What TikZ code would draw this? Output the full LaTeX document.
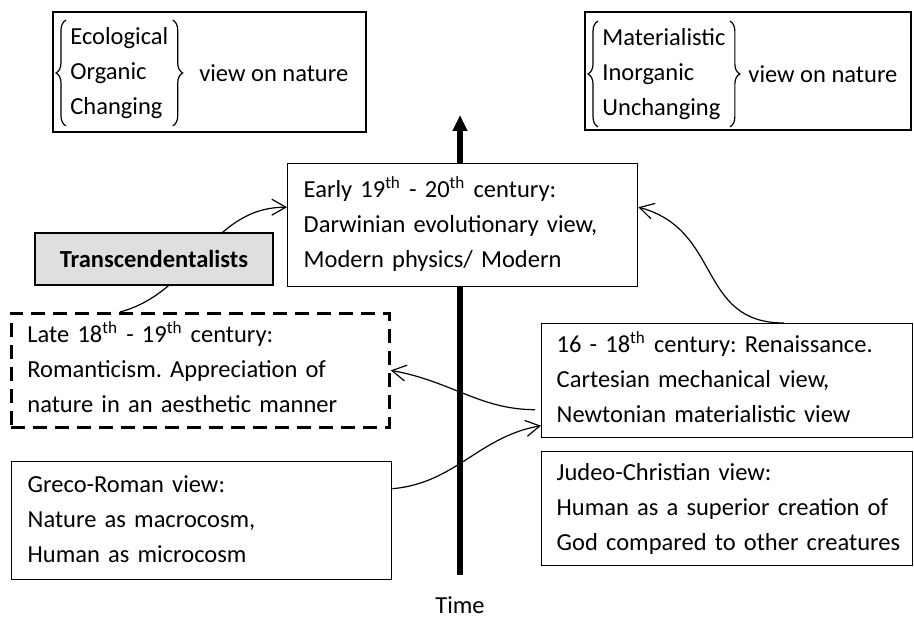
\documentclass[tikz,border=0pt]{standalone}
\usepackage{fontspec}
\setmainfont{Carlito}
\usetikzlibrary{arrows.meta}
\usetikzlibrary{decorations.pathreplacing}
\pgfdeclarelayer{back}
\pgfsetlayers{back,main}
\frenchspacing
\newcommand{\ordth}[1]{#1\textsuperscript{th}}
\newcommand{\lines}[1]{\begin{tabular}{@{}l@{}}#1\end{tabular}}
\tikzset{
  era/.style={draw,fill=white,line width=0.7pt,anchor=north west,
    align=left,inner xsep=8pt,inner ysep=0pt},
  view/.style={draw,fill=white,line width=0.7pt,inner sep=0pt},
  curly/.style={line width=0.6pt,decorate,decoration={brace,amplitude=5pt}},
  link/.style={line width=0.6pt,-{Straight Barb[length=7pt,width=8pt]}},
}
\begin{document}
\begin{tikzpicture}[x=0.5pt,y=-0.5pt]
  \useasboundingbox (0,0) rectangle (914,624);
  \fontsize{12.25}{17.5}\selectfont

  % views on nature
  \node[view,minimum width=156.5pt,minimum height=60pt] (eco) at (209.5,72) {};
  \node[anchor=west,inner xsep=2pt,inner ysep=0pt] (ecolist) at (66,73)
    {\lines{Ecological\\Organic\\Changing}};
  \draw[curly] (ecolist.south west) -- (ecolist.north west);
  \draw[curly] (ecolist.north east) -- (ecolist.south east);
  \node[anchor=west] (ecoview) at ([xshift=9pt]ecolist.east) {view on nature};

  \node[view,minimum width=163pt,minimum height=59pt] (mat) at (748,71) {};
  \node[anchor=west,inner xsep=2pt,inner ysep=0pt] (matlist) at (598,74)
    {\lines{Materialistic\\Inorganic\\Unchanging}};
  \draw[curly] (matlist.south west) -- (matlist.north west);
  \draw[curly] (matlist.north east) -- (matlist.south east);
  \node[anchor=west] (matview) at ([xshift=5pt]matlist.east) {view on nature};

  % periods
  \node[era,text width=159pt,minimum height=61.5pt] (early) at (287,163)
    {\lines{Early \ordth{19} - \ordth{20} century:\\Darwinian evolutionary view,\\Modern physics/ Modern}};
  \node[draw,fill=gray!25,line width=0.7pt,minimum width=119pt,minimum height=26pt,
    font=\bfseries] (trans) at (154,259) {Transcendentalists};
  \node[era,text width=173pt,minimum height=57pt,line width=1.4pt,
    dash pattern=on 7pt off 4pt] (late) at (10,312)
    {\lines{Late \ordth{18} - \ordth{19} century:\\Romanticism. Appreciation of\\nature in an aesthetic manner}};
  \node[era,text width=174pt,minimum height=59pt] (greco) at (11,461)
    {\lines{Greco-Roman view:\\Nature as macrocosm,\\Human as microcosm}};
  \node[era,text width=170.5pt,inner xsep=7.5pt,minimum height=57pt] (renaiss) at (541,323)
    {\lines{16 - \ordth{18} century: Renaissance.\\Cartesian mechanical view,\\Newtonian materialistic view}};
  \node[era,text width=170.5pt,inner xsep=7.5pt,minimum height=57pt] (judeo) at (541,451)
    {\lines{Judeo-Christian view:\\Human as a superior creation of\\God compared to other creatures}};

  % time axis
  \coordinate (axisbot) at (460,575);
  \coordinate (axistop) at (460,115);
  \node (time) at (460,605) {Time};

  \begin{pgfonlayer}{back}
    \draw[line width=3pt,-{Triangle[width=7pt,length=8pt]}] (axisbot) -- (axistop);
    \draw[link] ([xshift=55pt]late.north west) to[out=15,in=180] ([yshift=9pt]early.west);
  \end{pgfonlayer}

  \draw[link] ([xshift=121.5pt]renaiss.north west) to[out=180,in=-15,looseness=1.2] ([yshift=9pt]early.east);
  \draw[link,shorten <=3pt] ([yshift=-14.5pt]renaiss.west) to[out=180,in=-10] (late.east);
  \draw[link] ([yshift=16pt]greco.east) to[out=5,in=190] ([yshift=-22.5pt]renaiss.west);
\end{tikzpicture}
\end{document}
